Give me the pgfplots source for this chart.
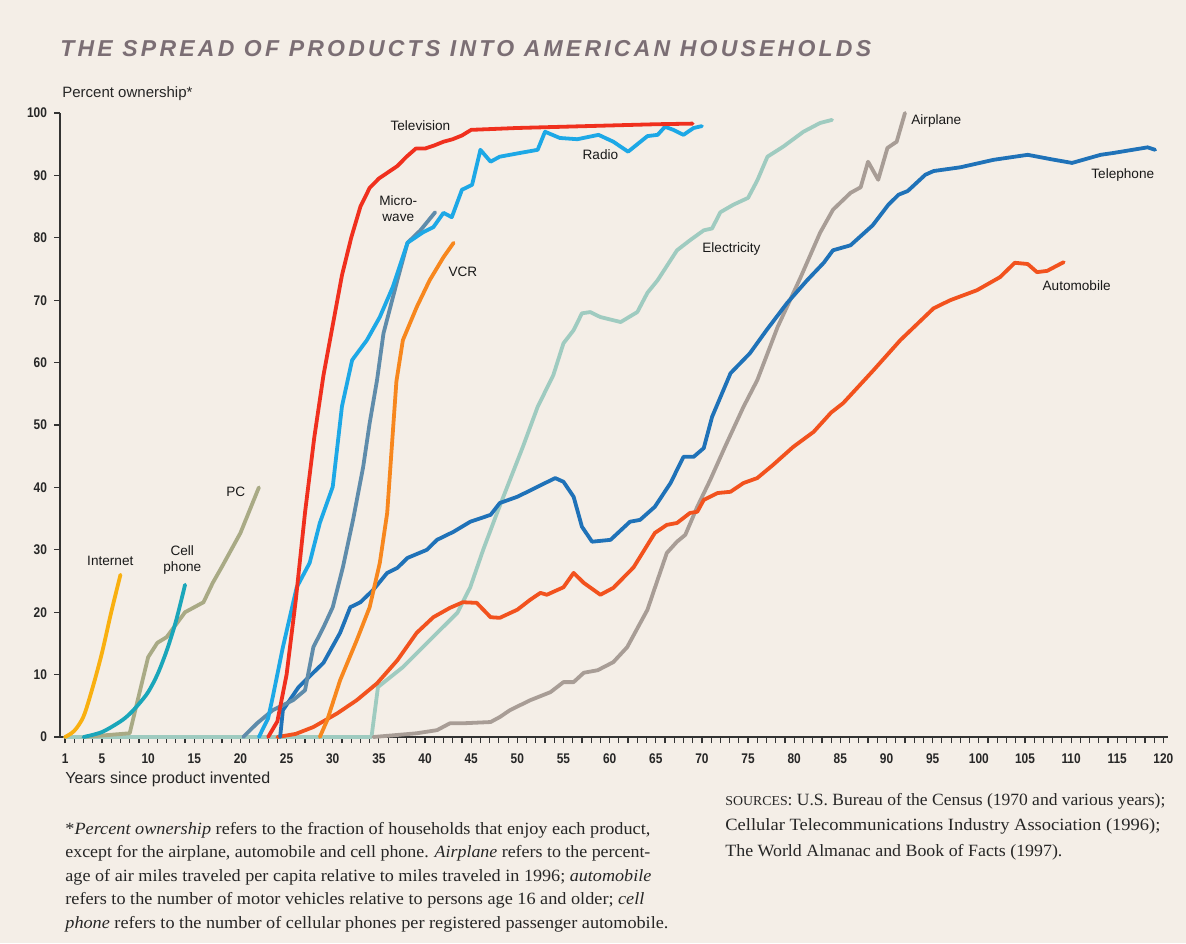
\documentclass[border=0pt]{standalone}
\usepackage{fontspec}
\usepackage{graphicx}
\setmainfont{Liberation Sans}
\newfontfamily\serif[FakeStretch=1.08]{Liberation Serif}
\newfontfamily\titlefont[LetterSpace=14]{Liberation Sans}
\newfontfamily\cond[FakeStretch=0.85]{Liberation Sans}
\usepackage{pgfplots}
\pgfplotsset{compat=1.18}
\definecolor{bgc}{HTML}{F4EEE7}
\definecolor{titlec}{HTML}{7B6E74}
\definecolor{tvc}{HTML}{F0301E}
\definecolor{radioc}{HTML}{1DA8E6}
\definecolor{microc}{HTML}{5F8CAB}
\definecolor{vcrc}{HTML}{F7871E}
\definecolor{telc}{HTML}{1F72B8}
\definecolor{elecc}{HTML}{9FCBC0}
\definecolor{autoc}{HTML}{F2521E}
\definecolor{airc}{HTML}{A89D96}
\definecolor{netc}{HTML}{F9B010}
\definecolor{cellc}{HTML}{1AA6BA}
\definecolor{pcc}{HTML}{A9AA85}
\begin{document}
\begin{tikzpicture}
\path[fill=bgc, use as bounding box] (0,0) rectangle (593pt,-471.5pt);
\node[anchor=base west, text=titlec, inner sep=0] at (30pt,-28pt) {\titlefont\bfseries\itshape\fontsize{11.5}{13}\selectfont THE SPREAD OF PRODUCTS INTO AMERICAN HOUSEHOLDS};
\node[anchor=base west, inner sep=0, text=black!85] at (31pt,-48.5pt) {\fontsize{7.5}{9}\selectfont Percent ownership*};
\node[anchor=base west, inner sep=0, text=black!85] at (32.5pt,-391.5pt) {\fontsize{8}{10}\selectfont Years since product invented};
\begin{scope}[every node/.style={anchor=base west, inner sep=0, text=black!85, font=\serif\fontsize{8.6}{10}\selectfont}]
\node at (32.5pt,-417pt) {\resizebox{292.5pt}{\height}{*\textit{Percent ownership} refers to the fraction of households that enjoy each product,}};
\node at (32.5pt,-428.8pt) {\resizebox{292.5pt}{\height}{except for the airplane, automobile and cell phone. \textit{Airplane} refers to the percent-}};
\node at (32.5pt,-440.6pt) {\resizebox{293pt}{\height}{age of air miles traveled per capita relative to miles traveled in 1996; \textit{automobile}}};
\node at (32.5pt,-452.4pt) {\resizebox{289.5pt}{\height}{refers to the number of motor vehicles relative to persons age 16 and older; \textit{cell}}};
\node at (32.5pt,-464.2pt) {\resizebox{301.5pt}{\height}{\textit{phone} refers to the number of cellular phones per registered passenger automobile.}};
\node at (362.5pt,-402.5pt) {\resizebox{220pt}{\height}{{\fontsize{6.8}{8}\selectfont SOURCES}: U.S. Bureau of the Census (1970 and various years);}};
\node at (362.5pt,-415.3pt) {\resizebox{217.5pt}{\height}{Cellular Telecommunications Industry Association (1996);}};
\node at (362.5pt,-428pt) {\resizebox{168.5pt}{\height}{The World Almanac and Book of Facts (1997).}};
\end{scope}
\begin{axis}[
  at={(30pt,-368.5pt)}, anchor=south west,
  scale only axis, width=554pt, height=312pt,
  xmin=0.45, xmax=120.5, ymin=0, ymax=100,
  clip=false,
  axis x line*=bottom, axis y line*=left,
  axis line style={line width=1pt, black!80, -},
  xtick={1,5,10,...,120}, minor xtick={1,...,120},
  ytick={0,10,...,100},
  tick align=outside, major tick length=3pt, minor tick length=3pt,
  tick style={black!80, line width=0.6pt},
  /pgf/number format/assume math mode=true,
  xticklabel style={font=\cond\bfseries\fontsize{7}{8}\selectfont, text=black!85, yshift=-2pt},
  yticklabel style={font=\cond\bfseries\fontsize{7}{8}\selectfont, text=black!85},
  every axis plot/.style={line width=1.9pt, line join=round, line cap=round},
]
\addplot[elecc] coordinates {(1,0)(34.2,0)(34.9,8)(37.6,11.2)(40.5,15.5)(43.5,19.9)(44.9,24)(46.3,30)(47.8,35.9)(49.2,41.2)(50.6,46.5)(52.2,52.9)(53.9,58)(55,63.1)(56.1,65.2)(57,67.9)(57.9,68.1)(59,67.3)(61.2,66.5)(63,68.1)(64.1,71.2)(65.2,73.2)(67.3,78)(68.7,79.6)(70.2,81.2)(71.1,81.5)(72,84.1)(73.4,85.3)(75,86.4)(76,89.2)(77.1,93)(78.8,94.6)(81,97)(82.8,98.4)(84.1,98.9)};
\addplot[airc] coordinates {(34.4,0)(39.1,0.6)(41.3,1.1)(42.7,2.2)(44.1,2.2)(47.1,2.4)(48.1,3.2)(49.2,4.3)(51.4,5.9)(53.6,7.2)(55,8.8)(56.1,8.8)(57.2,10.3)(58.7,10.7)(60.4,12)(61.9,14.4)(64.1,20.4)(65.2,25.2)(66.2,29.5)(67.3,31.3)(68.2,32.4)(69.5,36.9)(70.9,41.2)(72.5,46.5)(74.5,52.9)(76,57.2)(78.2,65.7)(80.7,73.7)(82.8,80.8)(84.2,84.5)(86.1,87.2)(87.2,88.1)(88,92.2)(89.1,89.3)(90.1,94.4)(91.1,95.4)(92,100)};
\addplot[autoc] coordinates {(24,0)(26,0.5)(27.9,1.6)(30.5,3.8)(32.6,5.9)(34.8,8.6)(37,12.3)(39.1,16.7)(40.9,19.2)(42.7,20.7)(44.1,21.6)(45.6,21.5)(47.1,19.2)(48.1,19.1)(50,20.4)(51.4,22)(52.5,23.1)(53.2,22.8)(55,24)(56.1,26.3)(57.2,24.7)(59,22.8)(60.4,23.9)(62.6,27.2)(64.9,32.7)(66.2,34)(67.3,34.3)(68.7,35.9)(69.5,36.1)(70.2,38)(71.7,39.1)(73.1,39.3)(74.5,40.7)(76,41.5)(77.7,43.6)(79.9,46.5)(82.1,48.9)(84,52)(85.3,53.5)(88.6,58.8)(91.5,63.6)(95.1,68.7)(96.9,70)(99.8,71.6)(102.3,73.7)(103.9,76)(105.3,75.8)(106.3,74.5)(107.4,74.7)(109.2,76.1)};
\addplot[telc] coordinates {(24.3,0)(24.6,4.3)(26.3,8)(29,11.9)(30.8,16.7)(31.9,20.8)(33,21.6)(34.4,23.6)(35.9,26.3)(37,27.1)(38.1,28.7)(40.2,30)(41.3,31.6)(43.1,32.9)(44.9,34.5)(47.1,35.6)(48.1,37.5)(50,38.5)(52.2,40.1)(54.1,41.5)(55,40.9)(56.1,38.5)(57,33.7)(58.1,31.3)(60.1,31.6)(62.2,34.5)(63.3,34.8)(64.9,36.9)(66.6,40.7)(68,44.9)(69.1,44.9)(70.2,46.3)(71.1,51.3)(73.1,58.3)(75.2,61.5)(77,65.2)(79.2,69.5)(81.4,73.2)(83.2,76)(84.2,78)(86.1,78.8)(88.5,82)(90.2,85.3)(91.3,86.9)(92.3,87.5)(94.2,90.1)(95.1,90.7)(98,91.3)(101.6,92.5)(105.3,93.3)(107.8,92.6)(110.1,92)(113.2,93.3)(114.6,93.6)(118.3,94.5)(119.1,94.1)};
\addplot[pcc] coordinates {(3,0)(8,0.6)(10,12.8)(11,15.1)(12,16)(14,20)(16,21.6)(17,24.7)(18,27.3)(20,32.7)(22,40)};
\addplot[cellc, smooth] coordinates {(3,0)(5,0.8)(7,2.5)(8,3.7)(9,5.3)(10,7.2)(11,10)(12,13.8)(13,18.5)(14,24.4)};
\addplot[netc, smooth] coordinates {(1,0)(2,1)(3,3.3)(4,8)(5,13.5)(6,20)(7,26)};
\addplot[vcrc] coordinates {(28.6,0)(29.4,2.7)(30.8,9.1)(32.6,15.5)(34,20.8)(35.1,27.9)(35.9,35.9)(36.4,46.5)(36.9,57)(37.6,63.6)(39.1,68.9)(40.5,73.2)(42,76.9)(43.1,79.2)};
\addplot[microc] coordinates {(20.3,0)(21.8,2.2)(23.5,4.3)(25.7,5.9)(27,7.5)(27.9,14.4)(29,17.6)(30,20.8)(31.1,27.2)(32.2,34.8)(33.3,43.3)(34,50.3)(34.8,57.2)(35.5,64.7)(37,73.2)(38.1,79.2)(39.5,81.2)(41.1,84.1)};
\addplot[radioc] coordinates {(22,0)(23,3)(23.5,6.4)(24.6,14.4)(26.1,24)(27.5,27.9)(28.6,34.3)(30,40.1)(31,53)(32.1,60.4)(33.7,63.6)(35.1,67.3)(36.5,72.1)(38.1,79.2)(39.8,80.9)(40.9,81.7)(42,84)(42.9,83.3)(44,87.7)(45.1,88.5)(46,94.1)(47.1,92.2)(48.1,93)(50.3,93.6)(52.2,94.1)(53,97)(54.6,96)(56.5,95.8)(58.8,96.5)(60.4,95.4)(62,93.8)(64.1,96.3)(65.2,96.5)(66,97.8)(66.9,97.3)(68,96.5)(69.1,97.6)(70,97.9)};
\addplot[tvc] coordinates {(23,0)(24,2.5)(25,10)(26,22)(27,36)(28,48)(29,58)(30,66)(31,74)(32,80)(33,85)(34,88)(35,89.5)(36,90.5)(37,91.5)(38,93)(39,94.3)(40,94.3)(41,94.8)(42,95.4)(43,95.8)(44,96.4)(45,97.3)(50,97.6)(55,97.8)(60,98)(65,98.2)(69,98.3)};
\begin{scope}[every node/.style={font=\fontsize{6.8}{8}\selectfont, text=black!90, align=center, inner sep=0}]
\node at (axis cs:5.9,28.2) {Internet};
\node at (axis cs:13.7,28.4) {Cell\\phone};
\node at (axis cs:19.5,39.3) {PC};
\node at (axis cs:39.5,97.9) {Television};
\node at (axis cs:59,93.3) {Radio};
\node at (axis cs:37.1,84.6) {Micro-\\wave};
\node at (axis cs:44.1,74.5) {VCR};
\node at (axis cs:73.2,78.2) {Electricity};
\node at (axis cs:95.4,98.7) {Airplane};
\node at (axis cs:115.6,90.1) {Telephone};
\node at (axis cs:110.6,72.3) {Automobile};
\end{scope}
\end{axis}
\end{tikzpicture}
\end{document}
